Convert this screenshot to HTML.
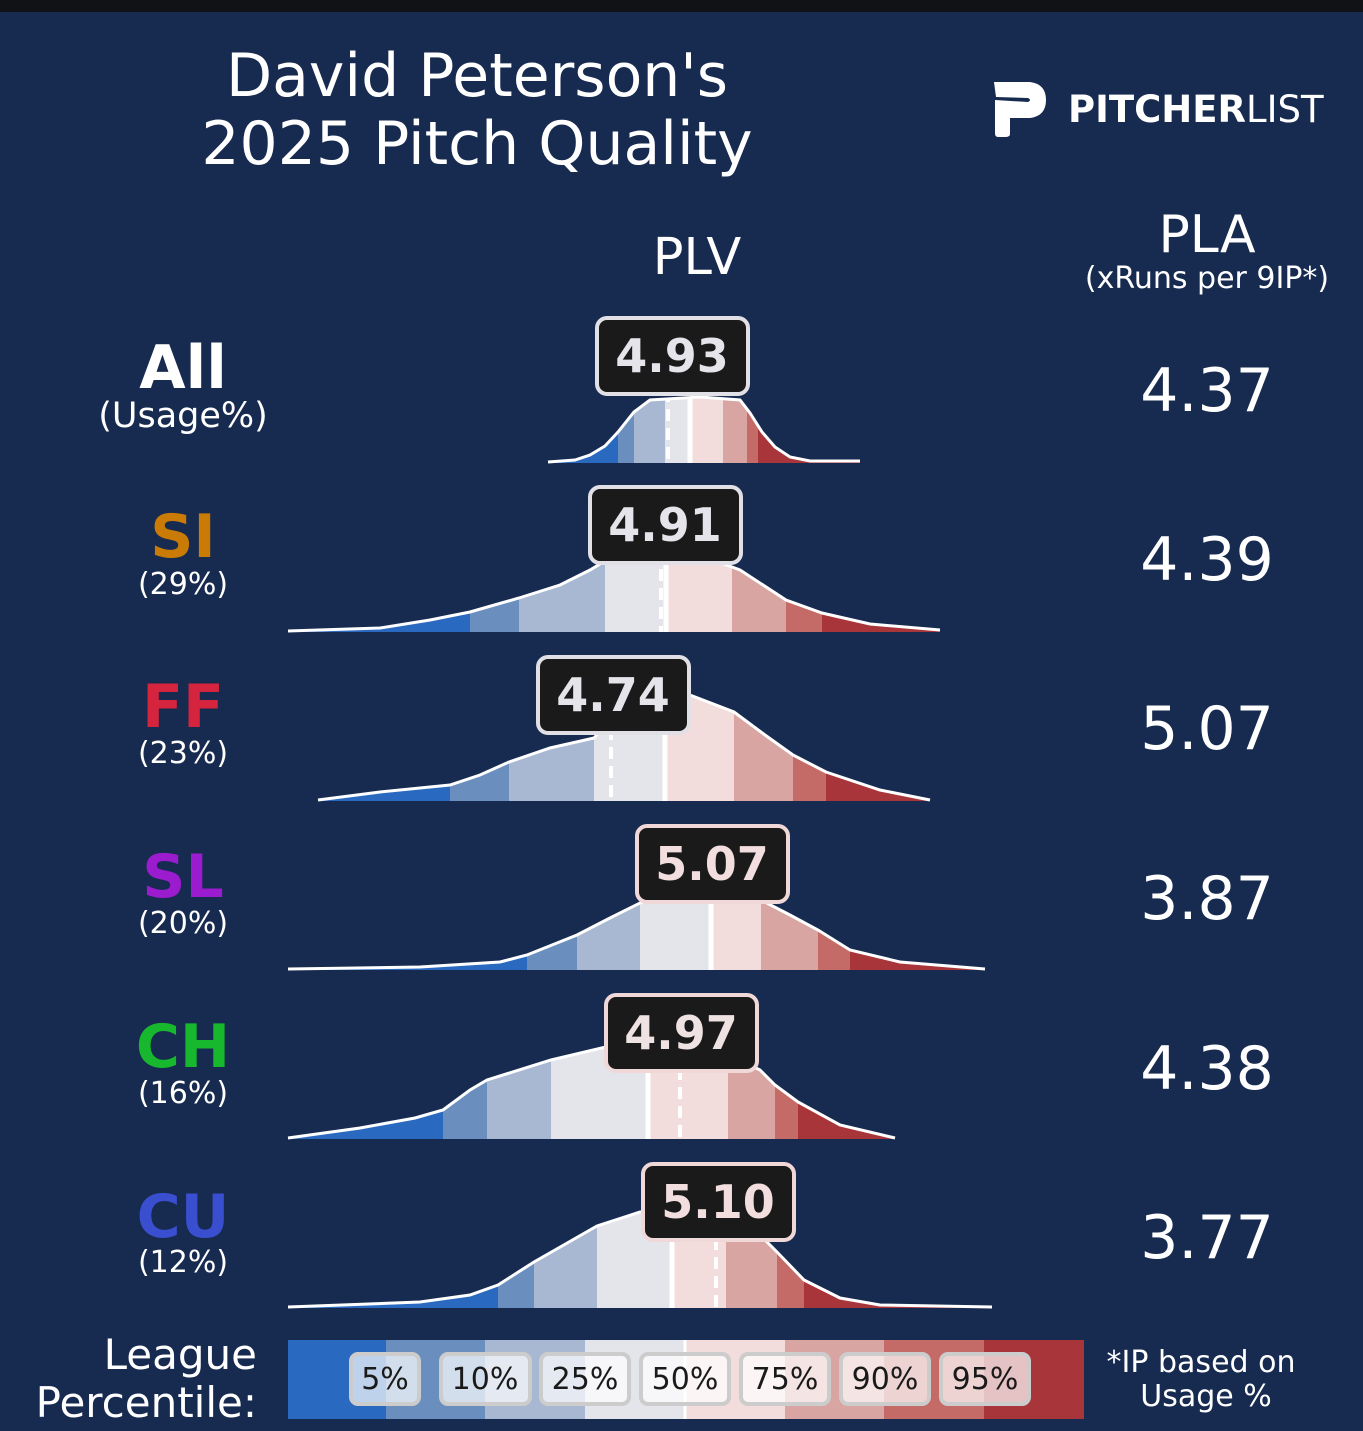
<!DOCTYPE html>
<html><head><meta charset="utf-8"><style>
html,body{margin:0;padding:0;background:#172a4f;}
svg{display:block;font-family:"DejaVu Sans","Liberation Sans",sans-serif;}
</style></head><body>
<svg width="1363" height="1431" viewBox="0 0 1363 1431" xmlns="http://www.w3.org/2000/svg">
<rect width="1363" height="1431" fill="#172a4f"/>
<rect width="1363" height="12" fill="#111216"/>
<defs>
<clipPath id="c0"><path d="M548,462 L575,460 L590,455 L605,446 L618,432 L634,412 L650,400 L700,397 L740,400 L750,413 L762,432 L775,447 L790,457 L810,461 L860,461 L860,463 L548,463Z"/></clipPath>
<clipPath id="c1"><path d="M288,631 L380,628 L430,620 L470,612 L519,598 L560,585 L590,570 L610,558 L700,555 L740,570 L786,600 L822,613 L870,624 L940,630 L940,632 L288,632Z"/></clipPath>
<clipPath id="c2"><path d="M318,800 L380,792 L450,785 L480,775 L509,762 L550,748 L594,738 L620,710 L690,695 L734,712 L765,735 L793,755 L826,772 L880,790 L930,800 L930,801 L318,801Z"/></clipPath>
<clipPath id="c3"><path d="M288,969 L420,967 L500,962 L527,955 L577,935 L610,918 L640,903 L700,885 L761,900 L790,915 L818,930 L850,950 L900,962 L985,969 L985,970 L288,970Z"/></clipPath>
<clipPath id="c4"><path d="M288,1138 L360,1128 L415,1118 L443,1110 L470,1090 L487,1080 L551,1060 L610,1046 L700,1040 L760,1070 L775,1085 L798,1102 L840,1125 L895,1138 L895,1139 L288,1139Z"/></clipPath>
<clipPath id="c5"><path d="M288,1307 L420,1302 L470,1295 L498,1285 L534,1262 L597,1226 L640,1212 L700,1212 L760,1235 L777,1252 L804,1280 L840,1298 L880,1305 L992,1307 L992,1308 L288,1308Z"/></clipPath>
</defs>
<g font-size="60" fill="#fff" text-anchor="middle">
<text x="477" y="96">David Peterson's</text>
<text x="477" y="164">2025 Pitch Quality</text>
</g>
<path d="M994,82 L1030,82 Q1046,84 1046,100 Q1046,116 1030,118 L1010,118 L1010,134 Q1010,137 1005,137 L998,137 Q995,137 995,133 L995,100 L1028,102 Q1032,100 1028,98 L996,97 Z" fill="#fff"/>
<text x="1068" y="122" font-size="37" font-weight="bold" fill="#fff">PITCHER<tspan font-weight="normal">LIST</tspan></text>
<text x="697" y="274" font-size="51" fill="#fff" text-anchor="middle">PLV</text>
<text x="1207" y="252" font-size="52" fill="#fff" text-anchor="middle">PLA</text>
<text x="1207" y="288" font-size="30" fill="#fff" text-anchor="middle">(xRuns per 9IP*)</text>
<g text-anchor="middle" fill="#fff">
<text x="183" y="388" font-size="60" font-weight="bold">All</text>
<text x="183" y="427" font-size="35">(Usage%)</text>
<text x="183" y="557" font-size="60" font-weight="bold" fill="#c97b06">SI</text>
<text x="183" y="594" font-size="30">(29%)</text>
<text x="183" y="727" font-size="60" font-weight="bold" fill="#d4243e">FF</text>
<text x="183" y="763" font-size="30">(23%)</text>
<text x="183" y="897" font-size="60" font-weight="bold" fill="#9b1ccf">SL</text>
<text x="183" y="933" font-size="30">(20%)</text>
<text x="183" y="1067" font-size="60" font-weight="bold" fill="#18b82e">CH</text>
<text x="183" y="1103" font-size="30">(16%)</text>
<text x="183" y="1237" font-size="60" font-weight="bold" fill="#3a4ed0">CU</text>
<text x="183" y="1272" font-size="30">(12%)</text>
</g>
<g text-anchor="middle" fill="#fff" font-size="60">
<text x="1207" y="411">4.37</text>
<text x="1207" y="580">4.39</text>
<text x="1207" y="749">5.07</text>
<text x="1207" y="919">3.87</text>
<text x="1207" y="1089">4.38</text>
<text x="1207" y="1258">3.77</text>
</g>
<g clip-path="url(#c0)">
<rect x="548" y="390" width="70" height="80" fill="#2a69c0"/><rect x="618" y="390" width="16" height="80" fill="#6a8fbf"/><rect x="634" y="390" width="31" height="80" fill="#a8b8d2"/><rect x="665" y="390" width="25" height="80" fill="#e4e5ea"/><rect x="690" y="390" width="33" height="80" fill="#f2dcdc"/><rect x="723" y="390" width="24" height="80" fill="#d9a5a2"/><rect x="747" y="390" width="11" height="80" fill="#c46b67"/><rect x="758" y="390" width="110" height="80" fill="#a8353a"/>
<line x1="690" y1="390" x2="690" y2="470" stroke="#fff" stroke-width="5"/><line x1="668" y1="390" x2="668" y2="470" stroke="#fff" stroke-width="4" stroke-dasharray="12,7"/>
</g>
<path d="M548,462 L575,460 L590,455 L605,446 L618,432 L634,412 L650,400 L700,397 L740,400 L750,413 L762,432 L775,447 L790,457 L810,461 L860,461" fill="none" stroke="#fff" stroke-width="3"/>
<g clip-path="url(#c1)">
<rect x="288" y="550" width="182" height="90" fill="#2a69c0"/><rect x="470" y="550" width="49" height="90" fill="#6a8fbf"/><rect x="519" y="550" width="86" height="90" fill="#a8b8d2"/><rect x="605" y="550" width="63" height="90" fill="#e4e5ea"/><rect x="668" y="550" width="64" height="90" fill="#f2dcdc"/><rect x="732" y="550" width="54" height="90" fill="#d9a5a2"/><rect x="786" y="550" width="36" height="90" fill="#c46b67"/><rect x="822" y="550" width="120" height="90" fill="#a8353a"/>
<line x1="666" y1="550" x2="666" y2="640" stroke="#fff" stroke-width="5"/><line x1="661" y1="550" x2="661" y2="640" stroke="#fff" stroke-width="4" stroke-dasharray="12,7"/>
</g>
<path d="M288,631 L380,628 L430,620 L470,612 L519,598 L560,585 L590,570 L610,558 L700,555 L740,570 L786,600 L822,613 L870,624 L940,630" fill="none" stroke="#fff" stroke-width="3"/>
<g clip-path="url(#c2)">
<rect x="318" y="690" width="132" height="120" fill="#2a69c0"/><rect x="450" y="690" width="59" height="120" fill="#6a8fbf"/><rect x="509" y="690" width="85" height="120" fill="#a8b8d2"/><rect x="594" y="690" width="71" height="120" fill="#e4e5ea"/><rect x="665" y="690" width="69" height="120" fill="#f2dcdc"/><rect x="734" y="690" width="59" height="120" fill="#d9a5a2"/><rect x="793" y="690" width="33" height="120" fill="#c46b67"/><rect x="826" y="690" width="110" height="120" fill="#a8353a"/>
<line x1="665" y1="690" x2="665" y2="810" stroke="#fff" stroke-width="5"/><line x1="611" y1="690" x2="611" y2="810" stroke="#fff" stroke-width="4" stroke-dasharray="12,7"/>
</g>
<path d="M318,800 L380,792 L450,785 L480,775 L509,762 L550,748 L594,738 L620,710 L690,695 L734,712 L765,735 L793,755 L826,772 L880,790 L930,800" fill="none" stroke="#fff" stroke-width="3"/>
<g clip-path="url(#c3)">
<rect x="288" y="870" width="239" height="110" fill="#2a69c0"/><rect x="527" y="870" width="50" height="110" fill="#6a8fbf"/><rect x="577" y="870" width="63" height="110" fill="#a8b8d2"/><rect x="640" y="870" width="71" height="110" fill="#e4e5ea"/><rect x="711" y="870" width="50" height="110" fill="#f2dcdc"/><rect x="761" y="870" width="57" height="110" fill="#d9a5a2"/><rect x="818" y="870" width="32" height="110" fill="#c46b67"/><rect x="850" y="870" width="140" height="110" fill="#a8353a"/>
<line x1="711" y1="870" x2="711" y2="980" stroke="#fff" stroke-width="5"/>
</g>
<path d="M288,969 L420,967 L500,962 L527,955 L577,935 L610,918 L640,903 L700,885 L761,900 L790,915 L818,930 L850,950 L900,962 L985,969" fill="none" stroke="#fff" stroke-width="3"/>
<g clip-path="url(#c4)">
<rect x="288" y="1030" width="155" height="120" fill="#2a69c0"/><rect x="443" y="1030" width="44" height="120" fill="#6a8fbf"/><rect x="487" y="1030" width="64" height="120" fill="#a8b8d2"/><rect x="551" y="1030" width="97" height="120" fill="#e4e5ea"/><rect x="648" y="1030" width="80" height="120" fill="#f2dcdc"/><rect x="728" y="1030" width="47" height="120" fill="#d9a5a2"/><rect x="775" y="1030" width="23" height="120" fill="#c46b67"/><rect x="798" y="1030" width="100" height="120" fill="#a8353a"/>
<line x1="648" y1="1030" x2="648" y2="1150" stroke="#fff" stroke-width="5"/><line x1="680" y1="1030" x2="680" y2="1150" stroke="#fff" stroke-width="4" stroke-dasharray="12,7"/>
</g>
<path d="M288,1138 L360,1128 L415,1118 L443,1110 L470,1090 L487,1080 L551,1060 L610,1046 L700,1040 L760,1070 L775,1085 L798,1102 L840,1125 L895,1138" fill="none" stroke="#fff" stroke-width="3"/>
<g clip-path="url(#c5)">
<rect x="288" y="1200" width="210" height="120" fill="#2a69c0"/><rect x="498" y="1200" width="36" height="120" fill="#6a8fbf"/><rect x="534" y="1200" width="63" height="120" fill="#a8b8d2"/><rect x="597" y="1200" width="75" height="120" fill="#e4e5ea"/><rect x="672" y="1200" width="54" height="120" fill="#f2dcdc"/><rect x="726" y="1200" width="51" height="120" fill="#d9a5a2"/><rect x="777" y="1200" width="27" height="120" fill="#c46b67"/><rect x="804" y="1200" width="190" height="120" fill="#a8353a"/>
<line x1="672" y1="1200" x2="672" y2="1320" stroke="#fff" stroke-width="5"/><line x1="716" y1="1200" x2="716" y2="1320" stroke="#fff" stroke-width="4" stroke-dasharray="12,7"/>
</g>
<path d="M288,1307 L420,1302 L470,1295 L498,1285 L534,1262 L597,1226 L640,1212 L700,1212 L760,1235 L777,1252 L804,1280 L840,1298 L880,1305 L992,1307" fill="none" stroke="#fff" stroke-width="3"/>
<g stroke-width="4" font-size="46" font-weight="bold" text-anchor="middle">
<rect x="597" y="318" width="151" height="76" rx="10" fill="#1a1a1a" stroke="#e0e0e6"/><text x="672" y="372" fill="#e4e4ea" stroke="none">4.93</text>
<rect x="590" y="487" width="151" height="76" rx="10" fill="#1a1a1a" stroke="#e0e0e6"/><text x="665" y="541" fill="#e4e4ea" stroke="none">4.91</text>
<rect x="538" y="657" width="151" height="76" rx="10" fill="#1a1a1a" stroke="#e0e0e6"/><text x="613" y="711" fill="#e4e4ea" stroke="none">4.74</text>
<rect x="637" y="826" width="151" height="76" rx="10" fill="#1a1a1a" stroke="#f0d8d8"/><text x="712" y="880" fill="#f2dede" stroke="none">5.07</text>
<rect x="606" y="995" width="151" height="76" rx="10" fill="#1a1a1a" stroke="#f0d8d8"/><text x="681" y="1049" fill="#eee2e2" stroke="none">4.97</text>
<rect x="643" y="1164" width="151" height="76" rx="10" fill="#1a1a1a" stroke="#f0d8d8"/><text x="718" y="1218" fill="#f2dede" stroke="none">5.10</text>
</g>
<rect x="288" y="1340" width="98" height="79" fill="#2a69c0"/><rect x="386" y="1340" width="99" height="79" fill="#6a8fbf"/><rect x="485" y="1340" width="100" height="79" fill="#a8b8d2"/><rect x="585" y="1340" width="99" height="79" fill="#e4e5ea"/><rect x="684" y="1340" width="101" height="79" fill="#f2dcdc"/><rect x="785" y="1340" width="99" height="79" fill="#d9a5a2"/><rect x="884" y="1340" width="100" height="79" fill="#c46b67"/><rect x="984" y="1340" width="100" height="79" fill="#a8353a"/>
<line x1="685" y1="1340" x2="685" y2="1419" stroke="#fff" stroke-width="3"/>
<g fill="#fff" fill-opacity="0.7" stroke="#cccccc" stroke-width="4">
<rect x="351" y="1354" width="68" height="50" rx="7"/><rect x="441" y="1354" width="89" height="50" rx="7"/><rect x="541" y="1354" width="88" height="50" rx="7"/><rect x="641" y="1354" width="88" height="50" rx="7"/><rect x="741" y="1354" width="88" height="50" rx="7"/><rect x="841" y="1354" width="88" height="50" rx="7"/><rect x="941" y="1354" width="88" height="50" rx="7"/>
</g>
<g fill="#1a1a1a" font-size="30" text-anchor="middle">
<text x="385" y="1389">5%</text><text x="485" y="1389">10%</text><text x="585" y="1389">25%</text><text x="685" y="1389">50%</text><text x="785" y="1389">75%</text><text x="885" y="1389">90%</text><text x="985" y="1389">95%</text>
</g>
<g fill="#fff" text-anchor="end" font-size="42">
<text x="257" y="1369">League</text><text x="257" y="1417">Percentile:</text>
</g>
<g fill="#fff" text-anchor="middle" font-size="30">
<text x="1201" y="1372">*IP based on</text><text x="1206" y="1406">Usage %</text>
</g>
</svg>
</body></html>
